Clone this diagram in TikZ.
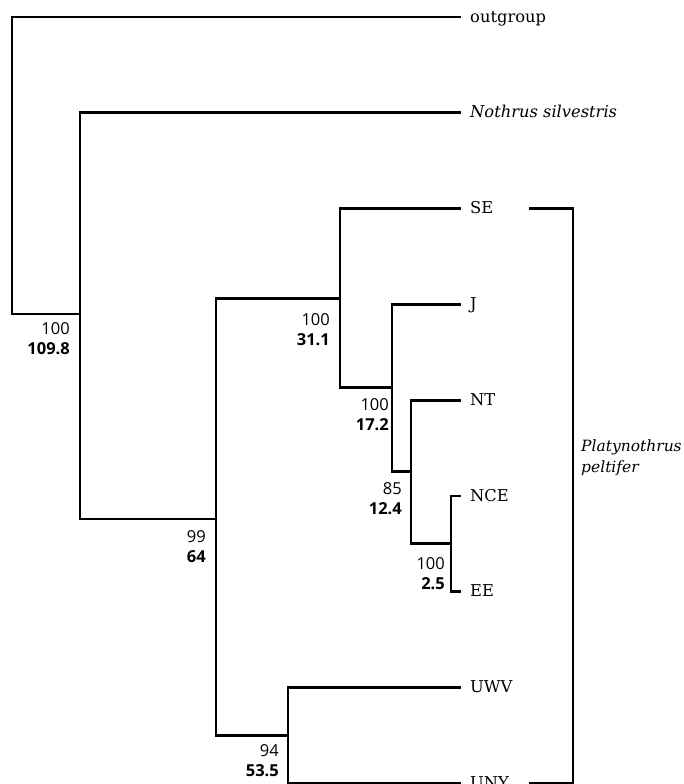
\documentclass[tikz,border=0pt]{standalone}
\usepackage{fontspec}
\setmainfont{DejaVu Serif}
\setsansfont{Open Sans}
\newcommand\lowtext[1]{\raisebox{-2.5pt}{#1}}
\begin{document}
\begin{tikzpicture}[x=1pt,y=-1pt,
  branch/.style={line width=2.8pt, line cap=rect},
  leaf/.style={anchor=mid west, inner xsep=10pt, inner ysep=0pt, font=\fontsize{16.3}{18}\selectfont},
  support/.style={anchor=north east, inner sep=0pt, align=right,
    font=\sffamily\fontsize{16.5}{20.5}\selectfont}]
\useasboundingbox (0,0) rectangle (683,784);
\clip (0,0) rectangle (683,784);

% leaves
\node[leaf] (og)  at (460,17)    {\lowtext{outgroup}};
\node[leaf] (ns)  at (460,112.8) {\lowtext{\itshape Nothrus silvestris}};
\node[leaf] (se)  at (460,208.6) {\lowtext{SE}};
\node[leaf] (j)   at (460,304.4) {\lowtext{J}};
\node[leaf] (nt)  at (460,400.2) {\lowtext{NT}};
\node[leaf] (nce) at (460,496)   {\lowtext{NCE}};
\node[leaf] (ee)  at (460,591.8) {\lowtext{EE}};
\node[leaf] (uwv) at (460,687.6) {\lowtext{UWV}};
\node[leaf] (uny) at (460,783.4) {\lowtext{UNY}};

% internal nodes
\coordinate (r)  at (12,314);
\coordinate (n2) at (80,314);
\coordinate (n3) at (216,519);
\coordinate (n4) at (340,298.5);
\coordinate (n5) at (392,387.5);
\coordinate (n6) at (411,471.5);
\coordinate (n7) at (451,543.5);
\coordinate (n8) at (288,735.5);

% branches
\draw[branch] (r) |- (og.mid west);
\draw[branch] (r) -- (n2);
\draw[branch] (n2) |- (ns.mid west);
\draw[branch] (n2) |- (n3);
\draw[branch] (n3) |- (n4);
\draw[branch] (n3) |- (n8);
\draw[branch] (n4) |- (se.mid west);
\draw[branch] (n4) |- (n5);
\draw[branch] (n5) |- (j.mid west);
\draw[branch] (n5) |- (n6);
\draw[branch] (n6) |- (nt.mid west);
\draw[branch] (n6) |- (n7);
\draw[branch] (n7) |- (nce.mid west);
\draw[branch] (n7) |- (ee.mid west);
\draw[branch] (n8) |- (uwv.mid west);
\draw[branch] (n8) |- (uny.mid west);

% support labels
\node[support] (l2) at (70,322)  {100\\\textbf{109.8}};
\node[support] (l3) at (206,530) {99\\\textbf{64}};
\node[support] (l4) at (330,313) {100\\\textbf{31.1}};
\node[support] (l5) at (389,398) {100\\\textbf{17.2}};
\node[support] (l6) at (402,482) {85\\\textbf{12.4}};
\node[support] (l7) at (445,557) {100\\\textbf{2.5}};
\node[support] (l8) at (279,744) {94\\\textbf{53.5}};

% clade bracket
\coordinate (bt) at (530,208.6);
\coordinate (bb) at (530,783.4);
\draw[branch] (bt) -- ++(43,0) coordinate (bc) |- (bb);
\node[anchor=base west, inner sep=0pt, align=left,
  font=\itshape\fontsize{15.5}{21}\selectfont] (pp) at (581,472)
  {Platynothrus\\peltifer};
\end{tikzpicture}
\end{document}
